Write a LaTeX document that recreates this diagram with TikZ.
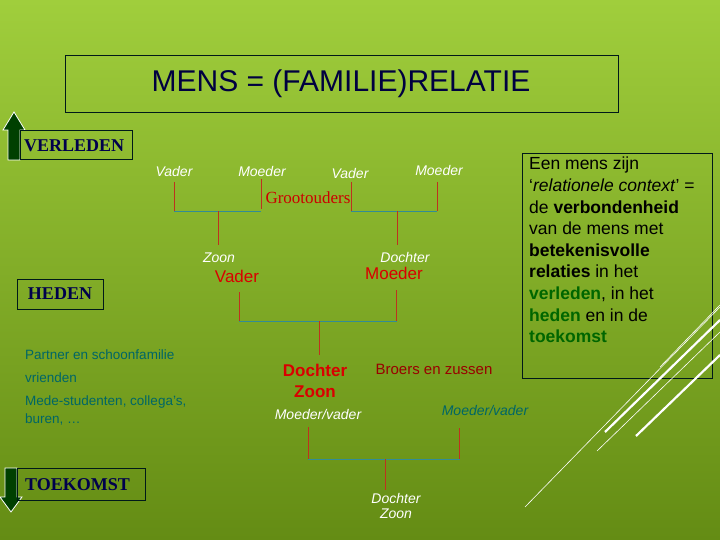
\documentclass[tikz,border=0pt]{standalone}
\usepackage{fontspec}
\setmainfont{Liberation Serif}
\setsansfont{Liberation Sans}
\definecolor{hcol}{RGB}{50,140,150}
\definecolor{vcol}{RGB}{190,50,30}
\begin{document}
\begin{tikzpicture}[x=1pt,y=-1pt,
  wl/.style={font=\sffamily\itshape\fontsize{14}{15}\selectfont,text=white,inner sep=0},
  rl/.style={font=\sffamily\fontsize{17}{18}\selectfont,text=red!85!black,inner sep=0},
  tl/.style={font=\sffamily\fontsize{13.5}{14}\selectfont,text=teal!80!black,anchor=west,inner sep=0},
  lbox/.style={draw=black!80!teal,font=\bfseries\fontsize{18}{19}\selectfont,text=black!70!blue,inner sep=0},
  vl/.style={draw=vcol,line width=0.8pt},
  hl/.style={draw=hcol,line width=0.9pt},
  arr/.style={draw=white,fill=green!25!black,line width=0.8pt},
  deco/.style={draw=white}]
\shade[top color={rgb,255:red,160;green,206;blue,60},bottom color={rgb,255:red,100;green,140;blue,20}] (0,0) rectangle (720,540);
\useasboundingbox (0,0) rectangle (720,540);
% title
\draw[draw=black!80!teal] (65,55) rectangle (618,112);
\node[font=\sffamily\fontsize{30}{31}\selectfont,text=black!75!blue] (title) at (341,84) {MENS = (FAMILIE)RELATIE};
% arrows
\draw[arr] (8,160) -- (8,130) -- (3,130) -- (14,112) -- (25,130) -- (20,130) -- (20,160) -- cycle;
\draw[arr] (5,468) -- (5,497) -- (0,497) -- (11,512) -- (22,497) -- (17,497) -- (17,468) -- cycle;
% boxes
\draw[draw=black!80!teal] (20,130) rectangle (132,159);
\node[lbox,draw=none,anchor=west] (verleden) at (24,146) {VERLEDEN};
\draw[draw=black!80!teal] (17,279) rectangle (103,309);
\node[lbox,draw=none] (heden) at (60,294) {HEDEN};
\draw[draw=black!80!teal] (17,468) rectangle (145,500);
\node[lbox,draw=none,anchor=west] (toekomst) at (25,485) {TOEKOMST};
% grandparents
\node[wl] (v1) at (174,172) {Vader};
\node[wl] (m1) at (262,172) {Moeder};
\node[wl] (v2) at (350,173) {Vader};
\node[wl] (m2) at (439,171) {Moeder};
\node[font=\fontsize{17}{18}\selectfont,text=red!80!black,inner sep=0] (gr) at (308,198) {Grootouders};
\draw[vl] (174,182) -- (174,211);
\draw[vl] (261,179) -- (261,209);
\draw[vl] (351,182) -- (351,211);
\draw[vl] (437,182) -- (437,211);
\draw[hl] (174,211) -- (261,211);
\draw[hl] (351,211) -- (437,211);
\draw[vl] (218,211) -- (218,245);
\draw[vl] (397,211) -- (397,245);
% parents
\node[wl] (zoon1) at (219,258) {Zoon};
\node[rl] (vader) at (237,276) {Vader};
\node[wl] (dochter1) at (405,257) {Dochter};
\node[rl] (moeder) at (394,273) {Moeder};
\draw[vl] (239,292) -- (239,321);
\draw[vl] (396,290) -- (396,321);
\draw[hl] (239,321) -- (397,321);
\draw[vl] (319,321) -- (319,355);
% left list
\node[tl] (p) at (25,355) {Partner en schoonfamilie};
\node[tl] (vr) at (25,378) {vrienden};
\node[tl] (ms) at (25,402) {Mede-studenten, collega's,};
\node[tl] (bu) at (25,419) {buren, \dots};
% children
\node[rl,font=\sffamily\bfseries\fontsize{17}{18}\selectfont] (dz) at (315,370) {Dochter};
\node[rl,font=\sffamily\bfseries\fontsize{17}{18}\selectfont] (zz) at (315,392) {Zoon};
\node[font=\sffamily\fontsize{15}{16}\selectfont,text=red!60!black,inner sep=0] (bz) at (434,369) {Broers en zussen};
\node[wl] (mv1) at (318,414) {Moeder/vader};
\node[wl,text=teal!80!black] (mv2) at (485,410) {Moeder/vader};
\draw[vl] (308,427) -- (308,459);
\draw[vl] (459,428) -- (459,459);
\draw[hl] (308,459) -- (460,459);
\draw[vl] (385,459) -- (385,490);
\node[wl,align=center] (dz2) at (396,506) {Dochter\\Zoon};
% right box
\draw[draw=black!80!teal] (522,153) rectangle (712,378);
\node[anchor=north west,align=left,font=\sffamily\fontsize{17.5}{21.6}\selectfont,text=black,inner sep=0] (txt) at (529,157)
{Een mens zijn\\`\textit{relationele context}' =\\de \textbf{verbondenheid}\\van de mens met\\\textbf{betekenisvolle}\\\textbf{relaties} in het\\\textcolor{green!40!black}{\textbf{verleden}}, in het\\\textcolor{green!40!black}{\textbf{heden}} en in de\\\textcolor{green!40!black}{\textbf{toekomst}}};
% decoration
\draw[deco,line width=0.6pt] (525,507) -- (720,307);
\draw[deco,line width=2.2pt] (605,432) -- (720,320);
\draw[deco,line width=2.2pt] (636,436) -- (720,355);
\draw[deco,line width=0.6pt] (597,451) -- (720,332);
\draw[deco,line width=0.6pt] (660,367) -- (720,305);
\end{tikzpicture}
\end{document}
